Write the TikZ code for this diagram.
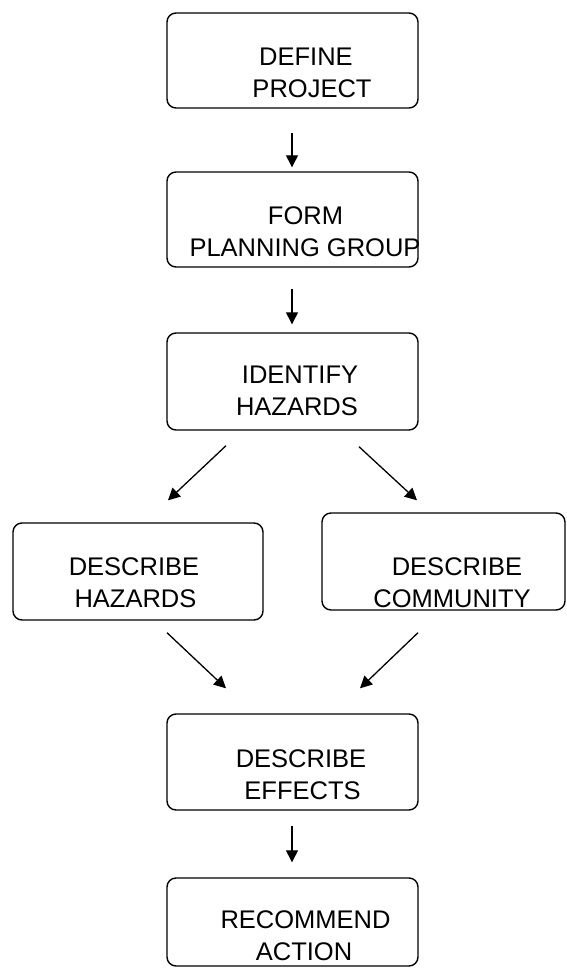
\documentclass[tikz,border=0pt]{standalone}
\usepackage{fontspec}
\setmainfont{Liberation Sans}
\usetikzlibrary{arrows.meta,calc}
\begin{document}
\begin{tikzpicture}[x=1pt,y=-1pt,
  stepbox/.style={draw=black,line width=1.4pt,rounded corners=9pt,inner sep=0pt},
  lbl/.style={inner sep=0pt,anchor=base,font=\fontsize{25.5}{32}\selectfont},
  arr/.style={line width=1.3pt,-{Triangle[length=12pt,width=12pt]}}]
\useasboundingbox (0,0) rectangle (567,969);

% process boxes
\node[stepbox,minimum width=251pt,minimum height=95pt] (b1) at (292.5,60.5) {};
\node[stepbox,minimum width=251pt,minimum height=95pt] (b2) at (292.5,219.5) {};
\node[stepbox,minimum width=251pt,minimum height=97pt] (b3) at (292.5,381.5) {};
\node[stepbox,minimum width=250pt,minimum height=97pt] (b4) at (138,571.5) {};
\node[stepbox,minimum width=243pt,minimum height=97pt] (b5) at (443.5,561.5) {};
\node[stepbox,minimum width=251pt,minimum height=96pt] (b6) at (292.5,762) {};
\node[stepbox,minimum width=251pt,minimum height=88pt] (b7) at (292.5,922) {};

% box texts, one node per line
\node[lbl] (t1a) at (306,65) {DEFINE};
\node[lbl] (t1b) at (312,97) {PROJECT};
\node[lbl] (t2a) at (305.5,224) {FORM};
\node[lbl] (t2b) at (305,256) {PLANNING GROUP};
\node[lbl] (t3a) at (300,383) {IDENTIFY};
\node[lbl] (t3b) at (297,415) {HAZARDS};
\node[lbl] (t4a) at (134,575) {DESCRIBE};
\node[lbl] (t4b) at (135.5,607) {HAZARDS};
\node[lbl] (t5a) at (457,575) {DESCRIBE};
\node[lbl] (t5b) at (452,607) {COMMUNITY};
\node[lbl] (t6a) at (301,767) {DESCRIBE};
\node[lbl] (t6b) at (302.5,799) {EFFECTS};
\node[lbl] (t7a) at (305.5,928) {RECOMMEND};
\node[lbl] (t7b) at (304,960) {ACTION};

% connectors
\draw[arr] ($(b1.south)+(-0.5,24)$) -- ($(b2.north)+(-0.5,-4)$);
\draw[arr] ($(b2.south)+(-0.5,21)$) -- ($(b3.north)+(-0.5,-8)$);
\draw[arr] ($(b3.south)+(-66.5,15)$) -- ($(b4.north)+(30,-22)$);
\draw[arr] ($(b3.south)+(66.5,16)$) -- ($(b5.north)+(-26.5,-12)$);
\draw[arr] ($(b4.south)+(29,12)$) -- ($(b6.north)+(-66.5,-25)$);
\draw[arr] ($(b5.south)+(-25.5,22)$) -- ($(b6.north)+(67.5,-25)$);
\draw[arr] ($(b6.south)+(-0.5,15)$) -- ($(b7.north)+(-0.5,-15)$);
\end{tikzpicture}
\end{document}
